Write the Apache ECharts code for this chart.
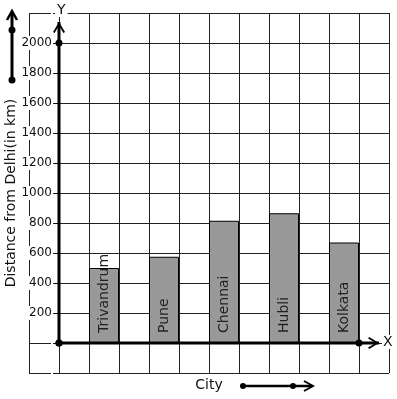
<!DOCTYPE html>
<html>
<head>
<meta charset="utf-8">
<script src="https://cdn.jsdelivr.net/npm/echarts@6/dist/echarts.min.js"></script>
<style>
  html, body { margin: 0; padding: 0; background: #fff; }
  #chart { width: 397px; height: 399px; }
</style>
</head>
<body>
<div id="chart"></div>
<script>
  // values
  var cities = ['Trivandrum', 'Pune', 'Chennai', 'Hubli', 'Kolkata'];
  var distances = [500, 575, 815, 865, 670];
  var yTickLabels = [200, 400, 600, 800, 1000, 1200, 1400, 1600, 1800, 2000];
  // thick axis arrows (data units): origin, marked point, arrow tip
  var yArrowStops = [0, 2000, 2140];
  var xArrowStops = [0, 10, 10.67];

  var font = 'DejaVu Sans';
  var ink = '#111';
  var gridColor = '#222';
  var upHead = 'path://M0,10 L6,0 L12,10 L10.4,11 L6,3.4 L1.6,11 Z';
  var rightHead = 'path://M1,0 L11,6 L1,12 L0,10.4 L7.6,6 L0,1.6 Z';

  var chart = echarts.init(document.getElementById('chart'), null, { renderer: 'canvas' });

  // every city sits in every other column, right of the y axis
  var barData = cities.map(function (c, i) {
    return { name: c, value: [2 * i + 1.5, distances[i]] };
  });

  function stop(v, i, arr, isY) {
    var item = { value: isY ? [0, v] : [v, 0] };
    if (i === arr.length - 1) {
      item.symbol = isY ? upHead : rightHead;
      item.symbolSize = isY ? [12, 11] : [11, 12];
      item.symbolOffset = isY ? [0, '50%'] : ['-50%', 0];
    } else {
      item.symbol = 'circle';
      item.symbolSize = 7;
    }
    return item;
  }

  var option = {
    animation: false,
    grid: { left: 29, top: 13, right: 8, bottom: 26, outerBoundsMode: 'none' },
    xAxis: {
      type: 'value',
      min: -1, max: 11, interval: 1,
      axisLine: { show: false, onZero: false },
      axisTick: { show: false },
      axisLabel: { show: false },
      splitLine: { show: true, lineStyle: { color: gridColor, width: 1 } },
      name: 'City',
      nameLocation: 'middle',
      nameGap: 5,
      nameMoveOverlap: false,
      nameTextStyle: { fontFamily: font, fontSize: 14, color: ink, verticalAlign: 'top' }
    },
    yAxis: {
      type: 'value',
      min: -200, max: 2200, interval: 200,
      offset: -30,
      z: 1,
      axisLine: { show: false, onZero: false },
      axisTick: { show: true, length: 5, lineStyle: { color: ink, width: 1 } },
      axisLabel: {
        margin: 6,
        fontFamily: font, fontSize: 12, color: ink,
        backgroundColor: '#fff', padding: [1, 1],
        formatter: function (v) { return yTickLabels.indexOf(v) >= 0 ? String(v) : ''; }
      },
      splitLine: { show: true, lineStyle: { color: gridColor, width: 1 } },
      name: 'Distance from Delhi(in km)',
      nameLocation: 'middle',
      nameRotate: 90,
      nameGap: 41,
      nameMoveOverlap: false,
      nameTextStyle: { fontFamily: font, fontSize: 14, color: ink }
    },
    series: [
      {
        type: 'bar',
        barWidth: 30,
        data: barData,
        itemStyle: { color: '#999999', borderColor: '#000', borderWidth: 1 },
        label: {
          show: true,
          position: 'insideBottom',
          distance: 10,
          rotate: 90,
          align: 'left',
          verticalAlign: 'middle',
          formatter: '{b}',
          fontFamily: font, fontSize: 14, color: '#222'
        },
        z: 2
      },
      {
        type: 'line',
        data: yArrowStops.map(function (v, i, a) { return stop(v, i, a, true); }),
        lineStyle: { color: '#000', width: 3 },
        itemStyle: { color: '#000' },
        showAllSymbol: true,
        clip: false,
        z: 4
      },
      {
        type: 'line',
        data: xArrowStops.map(function (v, i, a) { return stop(v, i, a, false); }),
        lineStyle: { color: '#000', width: 3 },
        itemStyle: { color: '#000' },
        showAllSymbol: true,
        clip: false,
        z: 4
      }
    ],
    graphic: [
      // axis letters
      { type: 'text', left: 55, top: 3, z: 10,
        style: { text: 'Y', font: '14px DejaVu Sans', fill: ink, backgroundColor: '#fff', padding: [0, 2] } },
      { type: 'text', left: 382, top: 335, z: 10,
        style: { text: 'X', font: '14px DejaVu Sans', fill: ink, backgroundColor: '#fff', padding: [0, 1] } },
      // decorative arrow beside the y title
      { type: 'line', z: 10, shape: { x1: 12, y1: 80, x2: 12, y2: 12 }, style: { stroke: '#000', lineWidth: 3 } },
      { type: 'polyline', z: 10, shape: { points: [[7, 20], [12, 11], [17, 20]] }, style: { stroke: '#000', lineWidth: 2.5, fill: null } },
      { type: 'circle', z: 10, shape: { cx: 12, cy: 30, r: 3.5 }, style: { fill: '#000' } },
      { type: 'circle', z: 10, shape: { cx: 12, cy: 80, r: 3.5 }, style: { fill: '#000' } },
      // decorative arrow beside the x title
      { type: 'line', z: 10, shape: { x1: 243, y1: 386, x2: 312, y2: 386 }, style: { stroke: '#000', lineWidth: 2.5 } },
      { type: 'polyline', z: 10, shape: { points: [[304, 381], [313, 386], [304, 391]] }, style: { stroke: '#000', lineWidth: 2, fill: null } },
      { type: 'circle', z: 10, shape: { cx: 243, cy: 386, r: 3 }, style: { fill: '#000' } },
      { type: 'circle', z: 10, shape: { cx: 293, cy: 386, r: 3 }, style: { fill: '#000' } }
    ]
  };

  chart.setOption(option);
</script>
</body>
</html>
